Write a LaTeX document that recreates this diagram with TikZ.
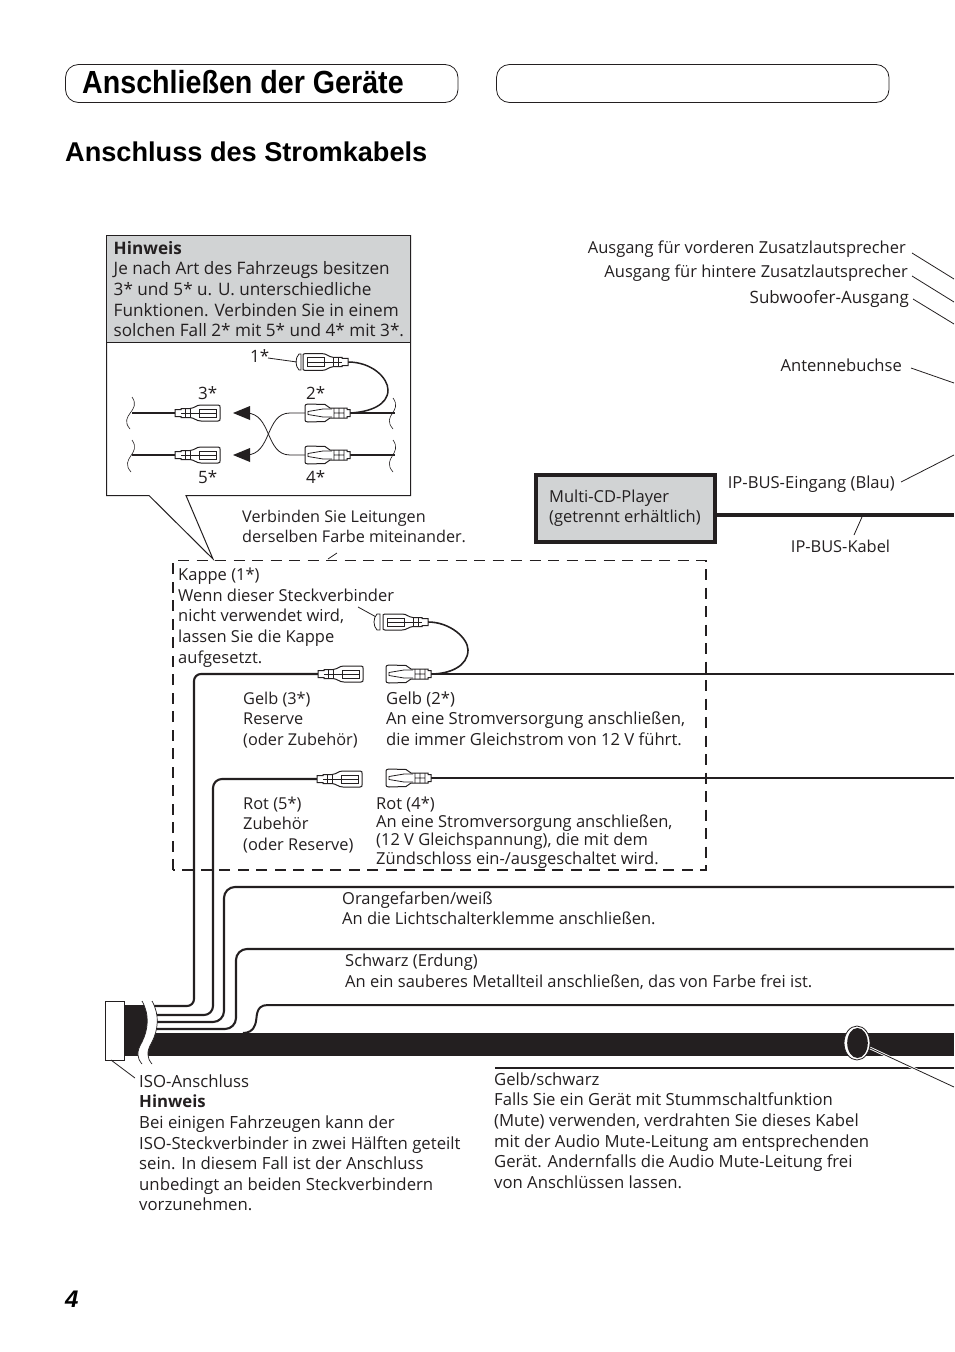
\documentclass[tikz,border=0pt]{standalone}
\usepackage{fontspec}
\setmainfont{Open Sans}
\newfontfamily\headfont[FakeStretch=0.895]{Liberation Sans}
\newfontfamily\subfont{Liberation Sans}
\definecolor{ink}{HTML}{231F20}
\definecolor{panel}{HTML}{D1D3D4}
\newcommand{\txt}[5][17]{\node[txt,fs=#1,anchor=north west] (#2) at (#3,#4-14) {\rule{0pt}{14pt}#5};}
\tikzset{
  x=1pt,y=-1pt,
  fs/.style={font=\fontsize{#1}{20.6}\selectfont},
  txt/.style={inner sep=0pt,align=left,text=ink},
  lbl/.style={inner sep=0pt,text=ink,fs=#1},
  lbl/.default=16.6,
  thinl/.style={draw=ink,line width=0.8pt},
  wire/.style={draw=ink,line width=2.1pt},
  plugline/.style={draw=ink,line width=0.8pt},
  pics/plugf/.style={code={
    \draw[plugline,fill=white,line width=1pt] (0,-3.5)--(6,-3.5)--(6,-4.5)--(15,-4.5) .. controls (20,-5) and (21,-8) .. (26,-8) -- (43,-8) .. controls (45,-8) and (45,-7) .. (45,-6) -- (45,6) .. controls (45,7) and (45,8) .. (43,8) -- (26,8) .. controls (21,8) and (20,5) .. (15,4.5) -- (6,4.5)--(6,3.5)--(0,3.5)--cycle;
    \draw[plugline] (24,-4)--(41,-4)--(41,4)--(24,4)--cycle (24,0)--(41,0) (10,-4.5)--(10,4.5) (15,-4.5)--(15,4.5) (6,0)--(24,0);
  }},
  pics/plugm/.style={code={
    \draw[plugline,fill=white,line width=1pt] (0,-3.5)--(3,-3.5)--(3,-5)--(20,-5)--(25,-8.5)--(42,-9) .. controls (44,-9) and (45,-8) .. (45,-7) -- (45,7) .. controls (45,8) and (44,9) .. (42,9) -- (25,8.5)--(20,5) -- (3,5)--(3,3.5)--(0,3.5)--cycle;
    \draw[plugline] (18,-4)--(27,-4)--(42,-1.5)--(42,1.5)--(27,4)--(18,4) (6,-5)--(6,5) (11,-5)--(11,5) (16,-5)--(16,5) (6,0)--(16,0);
  }},
}
\begin{document}
\begin{tikzpicture}
\useasboundingbox (0,0) rectangle (954,1352);
% header
\draw[ink,line width=0.8pt,rounded corners=13pt] (65.5,64.5) rectangle (458,102.5);
\draw[ink,line width=0.8pt,rounded corners=13pt] (496.5,64.5) rectangle (889,102.5);
\node[anchor=base west,inner sep=0pt,font=\headfont\bfseries\fontsize{32}{36}\selectfont] (title) at (82,93) {Anschließen der Geräte};
\node[anchor=base west,inner sep=0pt,font=\subfont\bfseries\fontsize{27.15}{30}\selectfont] (section) at (65,161) {Anschluss des Stromkabels};
\node[anchor=base west,inner sep=0pt,font=\subfont\bfseries\itshape\fontsize{24}{28}\selectfont] (page) at (65,1307) {4};
% callout
\draw[ink,line width=1pt,fill=white] (106.5,235.5) -- (410.5,235.5) -- (410.5,495.5) -- (186,495.5) -- (213,559) -- (149,495.5) -- (106.5,495.5) -- cycle;
\fill[panel,draw=ink,line width=1pt] (106.5,235.5) rectangle (410.5,342);
\txt[17.15]{hin}{113.5}{254}{\textbf{Hinweis}\\Je nach Art des Fahrzeugs besitzen\\3* und 5* u. U. unterschiedliche\\Funktionen. Verbinden Sie in einem\\solchen Fall 2* mit 5* und 4* mit 3*.}
% detail plugs
\coordinate (a3) at (175,413); \coordinate (a5) at (175,455); \coordinate (a2) at (350,413); \coordinate (a4) at (350,455); \coordinate (a1) at (348,362);
\coordinate (l3) at (132,413); \coordinate (l5) at (132,455); \coordinate (r2) at (395,413); \coordinate (r4) at (395,455);
\draw[wire,line width=2pt] (l3) -- (a3);
\draw[wire,line width=2pt] (l5) -- (a5);
\draw[wire,line width=2pt] (a2) -- (r2);
\draw[wire,line width=1.6pt] (a4) -- (r4);
\draw[wire,line width=1.5pt] (a1) .. controls (372,362) and (388,378) .. (388,390) .. controls (388,405) and (370,412) .. (a2);
\pic at (a3) {plugf};
\pic at (a5) {plugf};
\pic[xscale=-1] at (a2) {plugm};
\pic[xscale=-1] at (a4) {plugm};
\pic[xscale=-1,yscale=1.05] at (a1) {plugf};
\draw[plugline,fill=white] (299,354) .. controls (295,358) and (295,366) .. (299,370) -- (301,370) -- (301,354) -- cycle;
\coordinate (sq1a) at (132,397); \coordinate (sq1b) at (130,429); \coordinate (sq2a) at (132,440); \coordinate (sq2b) at (131,472);
\coordinate (sq3a) at (393,398); \coordinate (sq3b) at (393,429); \coordinate (sq4a) at (393,440); \coordinate (sq4b) at (393,472);
\foreach \p/\q in {sq1a/sq1b,sq2a/sq2b,sq3a/sq3b,sq4a/sq4b}
  \draw[ink,line width=0.6pt] (\p) .. controls +(10,14) and +(-12,-14) .. (\q);
% crossing arrows
\coordinate (x2) at (305,413); \coordinate (x4) at (305,455); \coordinate (tip3) at (233,413); \coordinate (tip5) at (233,455);
\draw[ink,line width=0.8pt] (x2) -- (290,413) .. controls (265,413) and (272,455) .. (246,455);
\draw[ink,line width=0.8pt] (x4) -- (290,455) .. controls (265,455) and (272,413) .. (246,413);
\fill[ink] (tip3) -- (250,406) -- (250,420) -- cycle;
\fill[ink] (tip5) -- (250,448) -- (250,462) -- cycle;
\node[lbl=17,anchor=base west] (s1) at (250,362) {1*};
\node[lbl=17,anchor=base west] (s3) at (198,399) {3*};
\node[lbl=17,anchor=base west] (s2) at (306,399) {2*};
\node[lbl=17,anchor=base west] (s5) at (198,483) {5*};
\node[lbl=17,anchor=base west] (s4) at (306,483) {4*};
\coordinate (lead1a) at (268,358); \coordinate (lead1b) at (297,362);
\draw[thinl] (lead1a) -- (lead1b);
% dashed box
\draw[ink,line width=1.2pt,dash pattern=on 11pt off 7.5pt] (173,870) -- (173,560.5) -- (706,560.5) -- (706,870) -- cycle;
\coordinate (vt1) at (328,559); \coordinate (vt2) at (337,553);
\draw[thinl] (vt1) -- (vt2);
\txt[16.2]{verb}{242}{522}{Verbinden Sie Leitungen\\derselben Farbe miteinander.}
\txt[16.5]{kappe}{178}{580.5}{Kappe (1*)\\Wenn dieser Steckverbinder\\nicht verwendet wird,\\lassen Sie die Kappe\\aufgesetzt.}
\coordinate (k1) at (358,607); \coordinate (k2) at (378,618);
\draw[thinl] (k1) -- (k2);
\txt[16.3]{g3}{243}{704}{Gelb (3*)\\Reserve\\(oder Zubehör)}
\txt[16.65]{g2}{386}{704}{Gelb (2*)\\An eine Stromversorgung anschließen,\\die immer Gleichstrom von 12 V führt.}
\txt[16.4]{r5}{243}{809}{Rot (5*)\\Zubehör\\(oder Reserve)}
\node[txt,anchor=north west,font=\fontsize{16.5}{18.3}\selectfont] (r4t) at (376,795) {\rule{0pt}{14pt}Rot (4*)\\An eine Stromversorgung anschließen,\\(12 V Gleichspannung), die mit dem\\Zündschloss ein-/ausgeschaltet wird.};
\txt[16.5]{ot}{342}{904}{Orangefarben/weiß\\An die Lichtschalterklemme anschließen.}
\txt[16.5]{st}{345}{966.5}{Schwarz (Erdung)\\An ein sauberes Metallteil anschließen, das von Farbe frei ist.}
% upper right labels
\node[lbl=16.5,anchor=base east] (lv) at (906,253) {Ausgang für vorderen Zusatzlautsprecher};
\node[lbl=16.5,anchor=base east] (lh) at (908,277) {Ausgang für hintere Zusatzlautsprecher};
\node[lbl=17,anchor=base east] (ls) at (909,303.5) {Subwoofer-Ausgang};
\node[lbl=16.6,anchor=base east] (la) at (902,371.5) {Antennebuchse};
\node[lbl=16.6,anchor=base east] (li) at (895,488.5) {IP-BUS-Eingang (Blau)};
\node[lbl=16.4,anchor=base] (lk) at (840.5,552) {IP-BUS-Kabel};
\coordinate (lv1) at (912,253); \coordinate (lv2) at (954,279);
\coordinate (lh1) at (912,276); \coordinate (lh2) at (954,302);
\coordinate (ls1) at (913,299); \coordinate (ls2) at (954,324);
\coordinate (la1) at (911,368); \coordinate (la2) at (954,383);
\coordinate (li1) at (901,482); \coordinate (li2) at (954,455);
\coordinate (lk1) at (862,517); \coordinate (lk2) at (854,535);
\foreach \p/\q in {lv1/lv2,lh1/lh2,ls1/ls2,la1/la2,li1/li2,lk1/lk2}
  \draw[thinl] (\p) -- (\q);
% multi-CD
\node[draw=ink,fill=panel,line width=3.6pt,minimum width=179.4pt,minimum height=67.4pt,inner sep=0pt,anchor=north west] (cd) at (534,473) {};
\txt[16.5]{cdt}{549}{502}{Multi-CD-Player\\(getrennt erhältlich)}
\coordinate (ipe) at (954,515);
\draw[wire,line width=3.4pt] (cd.east |- ipe) -- (ipe);
% main wires
\coordinate (p3) at (318,674); \coordinate (p5) at (317,779); \coordinate (p2) at (431,674); \coordinate (p4) at (431,778); \coordinate (p1) at (428,622);
\coordinate (e2) at (954,674); \coordinate (e4) at (954,778); \coordinate (eo) at (954,887); \coordinate (es) at (954,949); \coordinate (eg) at (954,1005); \coordinate (eb) at (954,1068);
\coordinate (w1) at (152,1006); \coordinate (w2) at (154,1015); \coordinate (w3) at (156,1022); \coordinate (w4) at (154,1029);
\draw[wire,rounded corners=7pt] (p3) -| (194,1006) -- (w1);
\draw[wire,rounded corners=9pt] (p5) -| (213,1015) -- (w2);
\draw[wire,rounded corners=11pt] (eo) -| (224,1022) -- (w3);
\draw[wire,rounded corners=11pt] (es) -| (236,1029) -- (w4);
\draw[wire,line width=2pt] (eg) -- (268,1005) .. controls (254,1005) and (258,1018) .. (255,1025) .. controls (253,1031) and (248,1033) .. (243,1033);
\draw[wire,line width=1.6pt] (p2) -- (e2);
\draw[wire] (p4) -- (e4);
\draw[wire,line width=1.6pt] (p1) .. controls (450,622) and (468,638) .. (468,650) .. controls (468,666) and (450,674) .. (p2);
\pic at (p3) {plugf};
\pic at (p5) {plugf};
\pic[xscale=-1] at (p2) {plugm};
\pic[xscale=-1] at (p4) {plugm};
\pic[xscale=-1] at (p1) {plugf};
\draw[plugline,fill=white] (377,614) .. controls (373,618) and (373,626) .. (377,630) -- (380,630) -- (380,614) -- cycle;
\draw[wire,line width=1.6pt] (495,1068) -- (eb);
% harness
\fill[ink] (120,1005) rectangle (150,1056);
\fill[ink] (146,1033) rectangle (954,1056);
\fill[white] (142,1001) .. controls (150,1015) and (148,1030) .. (142,1042) .. controls (136,1052) and (137,1058) .. (142,1064) -- (152,1064) .. controls (147,1058) and (146,1052) .. (152,1042) .. controls (158,1030) and (160,1015) .. (152,1001) -- cycle;
\draw[ink,line width=0.7pt] (142,1001) .. controls (150,1015) and (148,1030) .. (142,1042) .. controls (136,1052) and (137,1058) .. (142,1064);
\draw[ink,line width=0.7pt] (152,1001) .. controls (160,1015) and (158,1030) .. (152,1042) .. controls (146,1052) and (147,1058) .. (152,1064);
\node[draw=ink,line width=0.9pt,fill=white,minimum width=19pt,minimum height=59pt,inner sep=0pt,anchor=north west] (iso) at (104.5,1001) {};
\coordinate (iso1) at (111,1060); \coordinate (iso2) at (135,1078);
\draw[thinl] (iso1) -- (iso2);
\txt[16.75]{isot}{139}{1087}{ISO-Anschluss\\\textbf{Hinweis}\\Bei einigen Fahrzeugen kann der\\ISO-Steckverbinder in zwei Hälften geteilt\\sein. In diesem Fall ist der Anschluss\\unbedingt an beiden Steckverbindern\\vorzunehmen.}
\txt[16.7]{gs}{494}{1085}{Gelb/schwarz\\Falls Sie ein Gerät mit Stummschaltfunktion\\(Mute) verwenden, verdrahten Sie dieses Kabel\\mit der Audio Mute-Leitung am entsprechenden\\Gerät. Andernfalls die Audio Mute-Leitung frei\\von Anschlüssen lassen.}
% ellipse marker
\coordinate (m1) at (870,1048); \coordinate (m2) at (954,1087);
\draw[white,line width=2.6pt] (m1) -- (m2);
\draw[thinl] (m1) -- (m2);
\draw[ink,fill=white,line width=0.8pt] (857,1043) ellipse [x radius=13,y radius=17];
\fill[ink] (857.5,1043) ellipse [x radius=10.3,y radius=15];
\end{tikzpicture}
\end{document}
